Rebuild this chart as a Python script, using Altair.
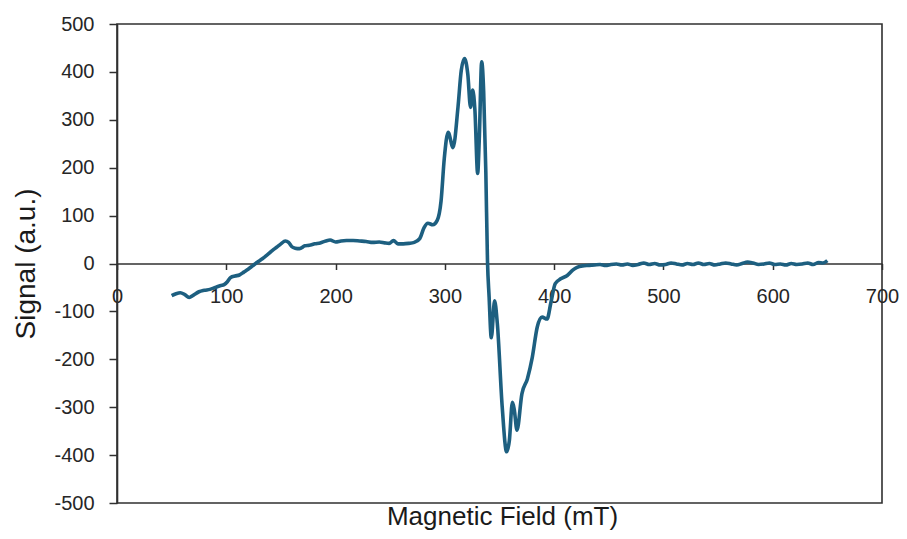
import altair as alt
import pandas as pd

field_mT = [50, 54, 58, 62, 66, 70, 75, 80, 85, 90, 95, 98, 101, 104, 108, 112, 116, 120, 124, 128,
            133, 138, 142, 146, 150, 154, 157, 160, 163, 167, 172, 176, 181, 186, 191, 195, 200, 205,
            210, 216, 222, 228, 234, 240, 245, 249, 253, 257, 262, 267, 272, 277, 281, 284.5, 289,
            293, 296.5, 299.5, 303, 307.5, 312, 315, 318, 321, 323.5, 325.5, 327.5, 330, 331.5,
            333.7, 335.5, 337.5, 339, 340.5, 342.5, 345.5, 348, 352.5, 356.5, 359, 361.8, 363.5,
            366, 370.5, 375.5, 380, 384.5, 389, 393.5, 397, 401, 406, 412, 417, 421, 426, 432,
            437, 442, 447, 452, 457, 462, 467, 472, 477, 482, 487, 492, 497, 502, 507, 512, 517,
            522, 527, 532, 537, 542, 547, 552, 557, 562, 567, 572, 577, 582, 587, 592, 597, 602,
            607, 612, 617, 622, 627, 632, 637, 642, 646, 650]
signal = [-67, -63, -61, -65, -71, -66, -59, -56, -54, -50, -46, -44, -38, -29, -26, -24, -18, -12, -5, 2,
          10, 19, 27, 34, 41, 47, 44, 35, 32, 31, 37, 38, 41, 43, 47, 49, 45, 47,
          48, 48, 47, 46, 44, 45, 43, 42, 48, 41, 41, 42, 44, 52, 75, 84, 81,
          90, 130, 220, 274, 242, 326, 403, 428, 395, 326, 362, 320, 188, 260,
          421, 360, 190, 6, -70, -155, -78, -125, -300, -393, -370, -290, -305,
          -348, -272, -241, -196, -133, -112, -116, -82, -42, -32, -25, -14, -8, -5, -4,
          -3, -2, -4, -2, -1, -3, -1, -4, -2, 1, -2, 0, -3, -2, 1, -1, -3,
          0, -2, 1, -2, 0, -3, -1, 1, -1, -3, 0, 3, 1, -2, -1, 1, -2,
          -1, -3, 0, -2, -1, 1, -2, 2, 1, 6]

x_ticks = [0, 100, 200, 300, 400, 500, 600, 700]
y_ticks = [-500, -400, -300, -200, -100, 0, 100, 200, 300, 400, 500]

df = pd.DataFrame({"field": field_mT, "signal": signal})

chart = alt.Chart(df).mark_line(
    color="#1d5f80", strokeWidth=3.6, interpolate="monotone"
).encode(
    x=alt.X("field:Q",
            scale=alt.Scale(domain=[0, 700], nice=False, zero=False),
            axis=alt.Axis(values=x_ticks, offset=-239.5, tickSize=6, labelPadding=17,
                          labelFlush=False, grid=False, labelExpr="'' + datum.value",
                          title="Magnetic Field (mT)", titleFontSize=26,
                          titleX=385, titleY=261, titleAlign="center",
                          titleBaseline="alphabetic", titleFontWeight="normal")),
    y=alt.Y("signal:Q",
            scale=alt.Scale(domain=[-500, 500], nice=False),
            axis=alt.Axis(values=y_ticks, tickSize=8, labelPadding=15, grid=False,
                          labelExpr="'' + datum.value",
                          title="Signal (a.u.)", titleFontSize=28,
                          titleX=-91, titleY=239.5, titleAngle=270,
                          titleAlign="center", titleBaseline="middle",
                          titleFontWeight="normal")),
).properties(
    width=765, height=479,
    autosize=alt.AutoSizeParams(type="none"),
    padding={"left": 109, "top": 16, "right": 17, "bottom": 28},
).configure(
    font="Liberation Sans",
).configure_view(
    stroke="#303030", strokeWidth=1.6,
).configure_axis(
    domainColor="#303030", domainWidth=1.6,
    tickColor="#303030", tickWidth=1.5,
    labelFont="Liberation Sans", labelFontSize=20, labelColor="#262626",
    titleFont="Liberation Sans", titleColor="#1a1a1a",
)

chart.save("out.html", embed_options={"renderer": "svg", "actions": False})
